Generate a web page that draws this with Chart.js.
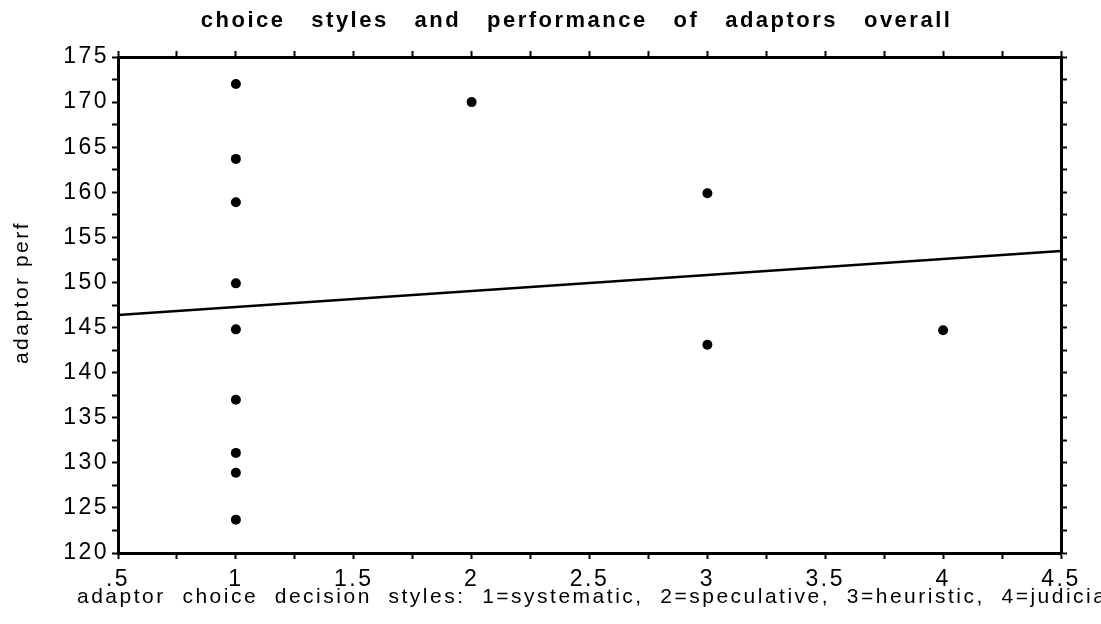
<!DOCTYPE html>
<html>
<head>
<meta charset="utf-8">
<title>choice styles and performance of adaptors overall</title>
<script src="https://cdn.jsdelivr.net/npm/chart.js"></script>
<style>
    html, body { margin: 0; padding: 0; background: #fff; }
    #wrap { width: 1101px; height: 624px; }
</style>
</head>
<body>
<div id="wrap"><canvas id="styleChart" width="1101" height="624"></canvas></div>
<script>
// decision style (x) and adaptor performance (y), one entry per adaptor
const styleX = [1, 1, 1, 1, 1, 1, 1, 1, 1, 2, 3, 3, 4];
const perfY = [172, 163.7, 158.9, 149.9, 144.8, 137, 131.1, 128.9, 123.7, 170, 159.9, 143.1, 144.7];

// fitted line, read at the two ends of the x axis
const fitX = [0.5, 4.5];
const fitY = [146.4, 153.5];

const xMin = 0.5, xMax = 4.5, xStep = 0.25;
const yMin = 120, yMax = 175, yStep = 2.5;

const titleText = 'choice   styles   and   performance   of   adaptors   overall   ';
const xTitle = 'adaptor  choice  decision  styles:  1=systematic,  2=speculative,  3=heuristic,  4=judicial';
const yTitle = '   adaptor perf';

const fontFamily = '"Liberation Sans", Arial, sans-serif';
Chart.defaults.font.family = fontFamily;
Chart.defaults.color = '#000';

// the scanned type is spaced out a little
const spacing = {
    id: 'spacing',
    beforeUpdate(c) { c.ctx.letterSpacing = '2.5px'; },
    beforeDraw(c) { c.ctx.letterSpacing = '2.5px'; }
};

// the x title runs wider than the plot and off the right edge,
// so it is drawn here rather than squeezed into the axis width
const xAxisLabel = {
    id: 'xAxisLabel',
    afterDraw(c) {
        const { ctx, chartArea } = c;
        ctx.save();
        ctx.font = '21px ' + fontFamily;
        ctx.letterSpacing = '2.5px';
        ctx.fillStyle = '#000';
        ctx.textAlign = 'left';
        ctx.textBaseline = 'alphabetic';
        ctx.fillText(xTitle, chartArea.left - 41, chartArea.bottom + 50);
        ctx.restore();
    }
};

const isMajor = (v, every) => Math.abs(v / every - Math.round(v / every)) < 1e-6;

const edgeGrid = { display: true, drawOnChartArea: false, drawTicks: true, tickLength: 6, tickWidth: 2, tickColor: '#000', color: '#000' };
const edgeBorder = { display: true, color: '#000', width: 3 };

new Chart(document.getElementById('styleChart'), {
    type: 'scatter',
    data: {
        datasets: [{
            label: 'adaptors',
            data: styleX.map((x, i) => ({ x, y: perfY[i] })),
            backgroundColor: '#000',
            borderWidth: 0,
            pointRadius: 5
        }, {
            label: 'fit',
            data: fitX.map((x, i) => ({ x, y: fitY[i] })),
            showLine: true,
            borderColor: '#000',
            borderWidth: 2.5,
            pointRadius: 0
        }]
    },
    options: {
        responsive: false,
        animation: false,
        events: [],
        layout: { padding: 0 },
        plugins: {
            legend: { display: false },
            tooltip: { enabled: false },
            title: {
                display: true,
                fullSize: false,
                text: titleText,
                color: '#000',
                font: { size: 22, weight: 'bold' },
                padding: { top: 8, bottom: 0 }
            }
        },
        scales: {
            x: {
                type: 'linear',
                position: 'bottom',
                min: xMin,
                max: xMax,
                grid: edgeGrid,
                border: edgeBorder,
                ticks: {
                    stepSize: xStep,
                    autoSkip: false,
                    maxRotation: 0,
                    padding: 7,
                    font: { size: 23 },
                    callback: (v) => isMajor(v, 0.5) ? (v === 0.5 ? '.5' : String(v)) : ''
                },
                afterFit: (s) => { s.height = 71; }
            },
            xTop: {
                type: 'linear',
                position: 'top',
                min: xMin,
                max: xMax,
                grid: edgeGrid,
                border: edgeBorder,
                ticks: { stepSize: xStep, display: false },
                afterFit: (s) => { s.height = 22.6; }
            },
            y: {
                type: 'linear',
                position: 'left',
                min: yMin,
                max: yMax,
                grid: edgeGrid,
                border: edgeBorder,
                ticks: {
                    stepSize: yStep,
                    autoSkip: false,
                    padding: 3,
                    font: { size: 23 },
                    callback: (v) => isMajor(v, 5) ? String(v) : ''
                },
                title: {
                    display: true,
                    text: yTitle,
                    font: { size: 21 },
                    padding: { top: 10, bottom: 0 }
                },
                afterFit: (s) => { s.width = 118; }
            },
            yRight: {
                type: 'linear',
                position: 'right',
                min: yMin,
                max: yMax,
                grid: edgeGrid,
                border: edgeBorder,
                ticks: { stepSize: yStep, display: false },
                afterFit: (s) => { s.width = 40; }
            }
        }
    },
    plugins: [spacing, xAxisLabel]
});
</script>
</body>
</html>
